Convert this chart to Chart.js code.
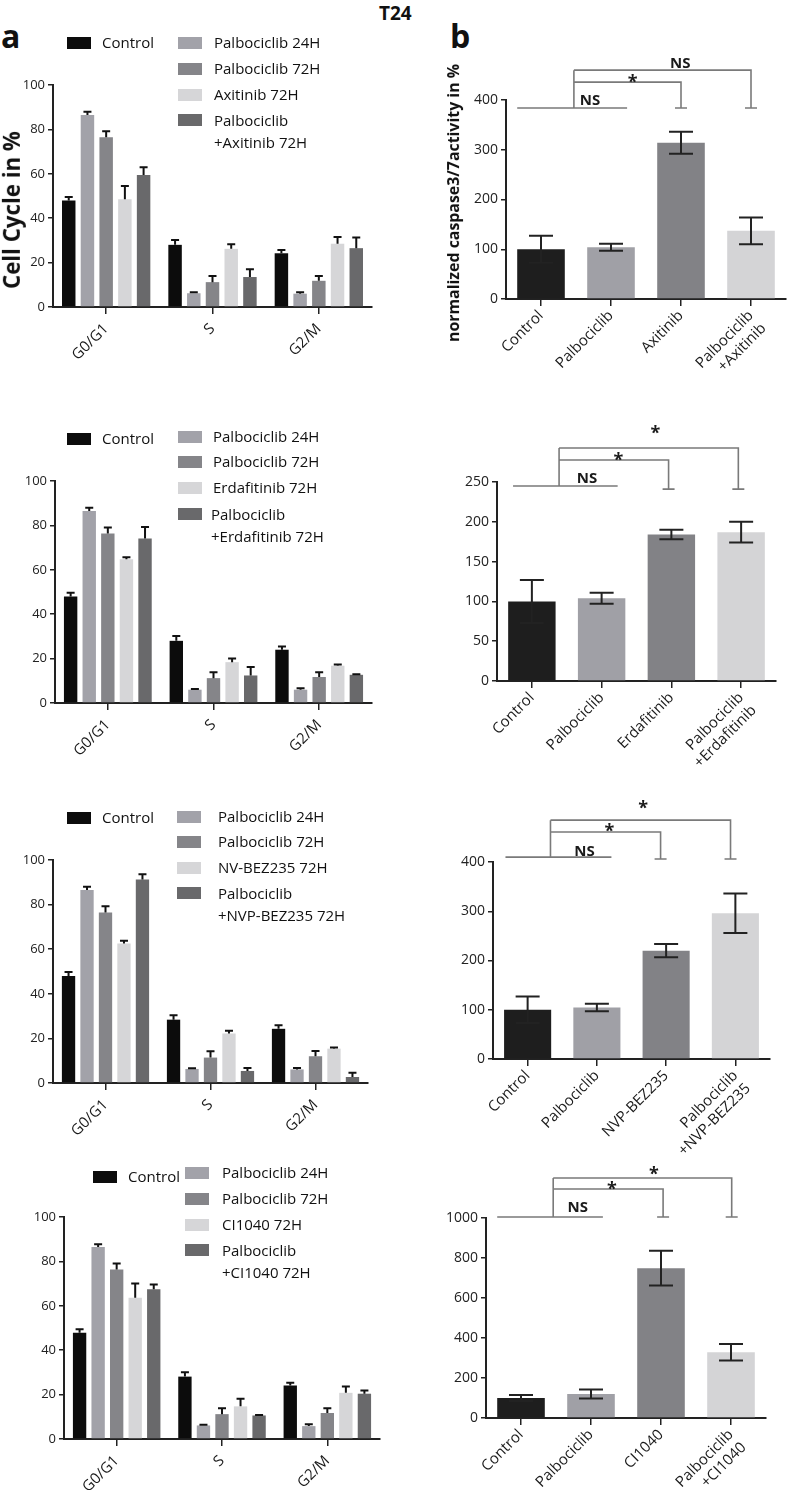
<!DOCTYPE html>
<html><head><meta charset="utf-8">
<script src="https://cdn.jsdelivr.net/npm/chart.js@4.4.1/dist/chart.umd.min.js"></script>
<style>
html,body{margin:0;padding:0;background:#fff;}
#wrap{position:relative;width:787px;height:1490px;overflow:hidden;font-family:'Open Sans',sans-serif;color:#111;}
canvas{position:absolute;background:transparent;}
.lbl{position:absolute;font-weight:bold;color:#111;}
.lg{position:absolute;font-size:15px;line-height:21px;white-space:pre;color:#111;}
.sw{position:absolute;width:24px;height:12px;}
.yt{position:absolute;font-weight:bold;color:#111;white-space:nowrap;transform:translate(-50%,-50%) rotate(-90deg);line-height:1;}
</style></head><body><div id="wrap">
<div class="lbl" style="left:379px;top:0px;font-size:19px;">T24</div>
<div class="lbl" style="left:1px;top:14px;font-size:32px;">a</div>
<div class="lbl" style="left:450px;top:14px;font-size:32px;">b</div>
<canvas id="a1"></canvas><canvas id="b1"></canvas>
<canvas id="a2"></canvas><canvas id="b2"></canvas>
<canvas id="a3"></canvas><canvas id="b3"></canvas>
<canvas id="a4"></canvas><canvas id="b4"></canvas>
<div class="yt" id="ytA">Cell Cycle in %</div>
<div class="yt" id="ytB">normalized caspase3/7activity in %</div>
</div>
<script>
// ---------------- DATA ----------------
const phases = ['G0/G1', 'S', 'G2/M'];

const namesA1 = ['Control', 'Palbociclib 24H', 'Palbociclib 72H', 'Axitinib 72H', 'Palbociclib\n+Axitinib 72H'];
const a1Values = [[48, 28, 24.2], [86.5, 6.2, 6], [76.5, 11.2, 11.8], [48.5, 26.2, 28.5], [59.5, 13.5, 26.5]];
const a1Errors = [[1.6, 2.2, 1.5], [1.4, 0.4, 0.7], [2.7, 2.8, 2.2], [6, 2.1, 3], [3.4, 3.5, 4.8]];

const namesA2 = ['Control', 'Palbociclib 24H', 'Palbociclib 72H', 'Erdafitinib 72H', 'Palbociclib\n+Erdafitinib 72H'];
const a2Values = [[48, 28, 24], [86.5, 6, 6], [76.3, 11.2, 11.7], [64.7, 18.4, 16.8], [74.1, 12.4, 12.7]];
const a2Errors = [[1.7, 2.2, 1.5], [1.4, 0.3, 0.7], [2.7, 2.7, 2.2], [0.9, 1.6, 0.5], [5.2, 3.8, 0.3]];

const namesA3 = ['Control', 'Palbociclib 24H', 'Palbociclib 72H', 'NV-BEZ235 72H', 'Palbociclib\n+NVP-BEZ235 72H'];
const a3Values = [[48, 28.4, 24.3], [86.5, 6.3, 6.1], [76.5, 11.4, 12], [62.6, 22.2, 15.4], [91.3, 5.4, 2.7]];
const a3Errors = [[1.8, 2, 1.6], [1.5, 0.3, 0.6], [2.8, 2.8, 2.4], [1.2, 1.2, 0.5], [2.3, 1.3, 1.9]];

const namesA4 = ['Control', 'Palbociclib 24H', 'Palbociclib 72H', 'CI1040 72H', 'Palbociclib\n+CI1040 72H'];
const a4Values = [[47.9, 28.1, 24.1], [86.5, 6.1, 5.8], [76.3, 11.2, 11.7], [63.6, 14.7, 20.8], [67.5, 10.6, 20.4]];
const a4Errors = [[1.5, 2, 1.2], [1.2, 0.3, 0.8], [2.7, 2.6, 2.2], [6.4, 3.4, 2.9], [2.1, 0.2, 1.5]];

const treatB1 = ['Control', 'Palbociclib', 'Axitinib', ['Palbociclib', '+Axitinib']];
const b1Values = [100, 104, 314, 137];
const b1Errors = [27, 7, 22, 27];

const treatB2 = ['Control', 'Palbociclib', 'Erdafitinib', ['Palbociclib', '+Erdafitinib']];
const b2Values = [100, 104, 184, 187];
const b2Errors = [27, 7, 6, 13];

const treatB3 = ['Control', 'Palbociclib', 'NVP-BEZ235', ['Palbociclib', '+NVP-BEZ235']];
const b3Values = [100, 104.5, 220, 296];
const b3Errors = [27, 7.5, 13.5, 40];

const treatB4 = ['Control', 'Palbociclib', 'CI1040', ['Palbociclib', '+CI1040']];
const b4Values = [100, 120, 749, 329];
const b4Errors = [15, 22, 87, 41];

// significance: [label, xIndex, value]
const sigLabelsB1 = [['NS', 0.7, 400], ['*', 1.31, 446], ['NS', 1.99, 476]];
const sigLabelsB2 = [['NS', 0.79, 255], ['*', 1.24, 283], ['*', 1.77, 317]];
const sigLabelsB3 = [['NS', 0.82, 424], ['*', 1.18, 471], ['*', 1.67, 518]];
const sigLabelsB4 = [['NS', 0.81, 1055], ['*', 1.3, 1165], ['*', 1.9, 1240]];

// ---------------- STYLE ----------------
const A_COLORS = ['#0c0c0c', '#a2a2a9', '#858589', '#d6d6d8', '#69696b'];
const B_COLORS = ['#1e1e1e', '#a0a0a6', '#828286', '#d4d4d6'];
Chart.defaults.font.family = "'Open Sans', sans-serif";
Chart.defaults.color = '#222';
Chart.defaults.animation = false;

const errPlugin = {
  id: 'errbars',
  afterDatasetsDraw(chart, args, opts) {
    const ctx = chart.ctx, y = chart.scales.y;
    ctx.save();
    ctx.strokeStyle = opts.color || '#111';
    ctx.lineWidth = opts.width || 2;
    chart.data.datasets.forEach((ds, di) => {
      const meta = chart.getDatasetMeta(di);
      meta.data.forEach((bar, i) => {
        const v = ds.data[i], e = ds.err[i];
        const yt = y.getPixelForValue(v + e);
        const yb = opts.both ? y.getPixelForValue(v - e) : bar.y;
        const c = opts.cap / 2;
        ctx.beginPath();
        ctx.moveTo(bar.x, yb); ctx.lineTo(bar.x, yt);
        ctx.moveTo(bar.x - c, yt); ctx.lineTo(bar.x + c, yt);
        if (opts.both) { ctx.moveTo(bar.x - c, yb); ctx.lineTo(bar.x + c, yb); }
        ctx.stroke();
      });
    });
    ctx.restore();
  }
};

const sigPlugin = {
  id: 'sig',
  afterDraw(chart, args, o) {
    if (!o || !o.labels) return;
    const ctx = chart.ctx, X = chart.scales.x, Y = chart.scales.y;
    const px = v => X.getPixelForValue(v), py = v => Y.getPixelForValue(v);
    ctx.save();
    ctx.strokeStyle = '#7a7a7a'; ctx.lineWidth = 1.6;
    ctx.beginPath();
    ctx.moveTo(px(o.ns[0]), py(o.ns[2])); ctx.lineTo(px(o.ns[1]), py(o.ns[2]));
    ctx.moveTo(px(o.stem), py(o.ns[2])); ctx.lineTo(px(o.stem), py(o.outer[1]));
    [o.inner, o.outer].forEach(b => {
      ctx.moveTo(px(o.stem), py(b[1])); ctx.lineTo(px(b[0]), py(b[1]));
      ctx.lineTo(px(b[0]), py(o.cap));
      ctx.moveTo(px(b[0]) - 6, py(o.cap)); ctx.lineTo(px(b[0]) + 6, py(o.cap));
    });
    ctx.stroke();
    ctx.fillStyle = '#1a1a1a'; ctx.textAlign = 'center'; ctx.textBaseline = 'alphabetic';
    o.labels.forEach(([t, xi, v]) => {
      const fs = t === '*' ? 18 : 15;
      ctx.font = "bold " + fs + "px 'Open Sans', sans-serif";
      const off = t === '*' ? 0.58 * fs : 0.36 * fs;
      ctx.fillText(t, px(xi), py(v) + off);
    });
    ctx.restore();
  }
};

function place(id, p) {
  const c = document.getElementById(id);
  c.width = p.cw; c.height = p.ch;
  c.style.left = p.cx + 'px'; c.style.top = p.cy + 'px';
  c.style.width = p.cw + 'px'; c.style.height = p.ch + 'px';
  return {
    el: c,
    padding: { left: p.L - p.cx - p.W, top: p.T - p.cy, right: p.cx + p.cw - p.R, bottom: p.cy + p.ch - p.B - p.H }
  };
}

function scales(p, max, step, tickSize, xFont, xPad) {
  return {
    x: {
      type: 'category', offset: true,
      grid: { offset: false, drawOnChartArea: false, drawTicks: true, tickLength: 7, color: '#222', lineWidth: 1.5 },
      border: { color: '#222', width: 2 },
      ticks: { autoSkip: false, minRotation: 45, maxRotation: 45, font: { size: xFont }, color: '#1a1a1a', padding: xPad },
      afterFit: s => { s.height = p.H; }
    },
    y: {
      min: 0, max: max,
      grid: { drawOnChartArea: false, drawTicks: true, tickLength: 5, color: '#222', lineWidth: 1.5 },
      border: { color: '#222', width: 2 },
      ticks: { stepSize: step, font: { size: tickSize }, color: '#222', padding: 3, callback: v => String(v) },
      afterFit: s => { s.width = p.W; }
    }
  };
}

function cellCycleChart(id, p, names, values, errors) {
  const c = place(id, p);
  new Chart(c.el, {
    type: 'bar',
    data: {
      labels: phases,
      datasets: names.map((n, i) => ({ label: n, data: values[i], err: errors[i], backgroundColor: A_COLORS[i], categoryPercentage: 0.88, barPercentage: 0.72 }))
    },
    options: {
      responsive: false, animation: false,
      layout: { padding: c.padding },
      plugins: { legend: { display: false }, tooltip: { enabled: false }, errbars: { cap: 8, width: 2, both: false, color: '#111' } },
      scales: scales(p, 100, 20, 13, 15, 6)
    },
    plugins: [errPlugin]
  });
}

function caspaseChart(id, p, labels, values, errors, max, step, sig) {
  const c = place(id, p);
  new Chart(c.el, {
    type: 'bar',
    data: {
      labels: labels,
      datasets: [{ label: 'caspase3/7', data: values, err: errors, backgroundColor: B_COLORS, categoryPercentage: 1, barPercentage: 0.68 }]
    },
    options: {
      responsive: false, animation: false,
      layout: { padding: c.padding },
      plugins: { legend: { display: false }, tooltip: { enabled: false }, errbars: { cap: 24, width: 2, both: true, color: '#222' }, sig: sig },
      scales: scales(p, max, step, 14, 15, 1)
    },
    plugins: [errPlugin, sigPlugin]
  });
}

function legend(names, pos) {
  const wrap = document.getElementById('wrap');
  names.forEach((n, i) => {
    const it = pos.items[i];
    const sw = document.createElement('div');
    sw.className = 'sw';
    sw.style.background = A_COLORS[i];
    sw.style.left = it[0] + 'px'; sw.style.top = (it[1] - 6) + 'px';
    wrap.appendChild(sw);
    const t = document.createElement('div');
    t.className = 'lg';
    t.textContent = n;
    t.style.left = it[2] + 'px'; t.style.top = (it[1] - 11) + 'px';
    if (n.indexOf('\n') >= 0) t.style.lineHeight = '22px';
    wrap.appendChild(t);
  });
}

function yTitle(id, cx, cy, len) {
  const el = document.getElementById(id);
  const m = document.createElement('canvas').getContext('2d');
  m.font = "bold 20px 'Open Sans'";
  const fs = 20 * len / m.measureText(el.textContent).width;
  el.style.fontSize = fs.toFixed(2) + 'px';
  el.style.left = cx + 'px'; el.style.top = cy + 'px';
}

// ---------------- CHARTS ----------------
// x-axis boxes (H) are tall enough that the rotated labels are not clipped
cellCycleChart('a1', { cx: 0, cy: 40, cw: 385, ch: 360, L: 53, T: 85, R: 372, B: 307, W: 40, H: 70 },
  namesA1, a1Values, a1Errors);
cellCycleChart('a2', { cx: 0, cy: 400, cw: 385, ch: 390, L: 55, T: 481, R: 372, B: 703, W: 40, H: 70 },
  namesA2, a2Values, a2Errors);
cellCycleChart('a3', { cx: 0, cy: 790, cw: 385, ch: 370, L: 53, T: 860, R: 368, B: 1083, W: 40, H: 70 },
  namesA3, a3Values, a3Errors);
cellCycleChart('a4', { cx: 0, cy: 1160, cw: 400, ch: 330, L: 64, T: 1217, R: 380, B: 1439, W: 40, H: 51 },
  namesA4, a4Values, a4Errors);

caspaseChart('b1', { cx: 390, cy: 40, cw: 397, ch: 360, L: 506, T: 100, R: 786, B: 299, W: 45, H: 85 },
  treatB1, b1Values, b1Errors, 400, 100,
  { ns: [-0.34, 1.23, 384], stem: 0.47, inner: [2, 436], outer: [3, 460], cap: 384, labels: sigLabelsB1 });
caspaseChart('b2', { cx: 390, cy: 400, cw: 397, ch: 392, L: 497, T: 482, R: 776, B: 681, W: 45, H: 100 },
  treatB2, b2Values, b2Errors, 250, 50,
  { ns: [-0.27, 1.23, 245], stem: 0.39, inner: [1.96, 277.6], outer: [2.96, 292.7], cap: 241, labels: sigLabelsB2 });
caspaseChart('b3', { cx: 390, cy: 792, cw: 397, ch: 364, L: 493, T: 862, R: 770, B: 1059, W: 45, H: 95 },
  treatB3, b3Values, b3Errors, 400, 100,
  { ns: [-0.32, 1.21, 410], stem: 0.33, inner: [1.92, 461], outer: [2.93, 485], cap: 406, labels: sigLabelsB3 });
caspaseChart('b4', { cx: 390, cy: 1156, cw: 397, ch: 334, L: 486, T: 1218, R: 766, B: 1418, W: 45, H: 72 },
  treatB4, b4Values, b4Errors, 1000, 200,
  { ns: [-0.34, 1.17, 1005], stem: 0.46, inner: [2.03, 1145], outer: [3.01, 1200], cap: 1005, labels: sigLabelsB4 });

legend(namesA1, { items: [[67, 43, 102], [178, 43, 214], [178, 69, 214], [178, 95, 214], [178, 120, 214]] });
legend(namesA2, { items: [[67, 439, 102], [178, 437, 213], [178, 462, 213], [178, 488, 213], [178, 514, 211]] });
legend(namesA3, { items: [[67, 818, 102], [177, 817, 218], [177, 842, 218], [177, 868, 218], [177, 893, 218]] });
legend(namesA4, { items: [[93, 1177, 128], [185, 1173, 222], [185, 1199, 222], [185, 1225, 222], [185, 1250, 222]] });

yTitle('ytA', 12, 210, 158);
yTitle('ytB', 454, 203, 278);
</script></body></html>
